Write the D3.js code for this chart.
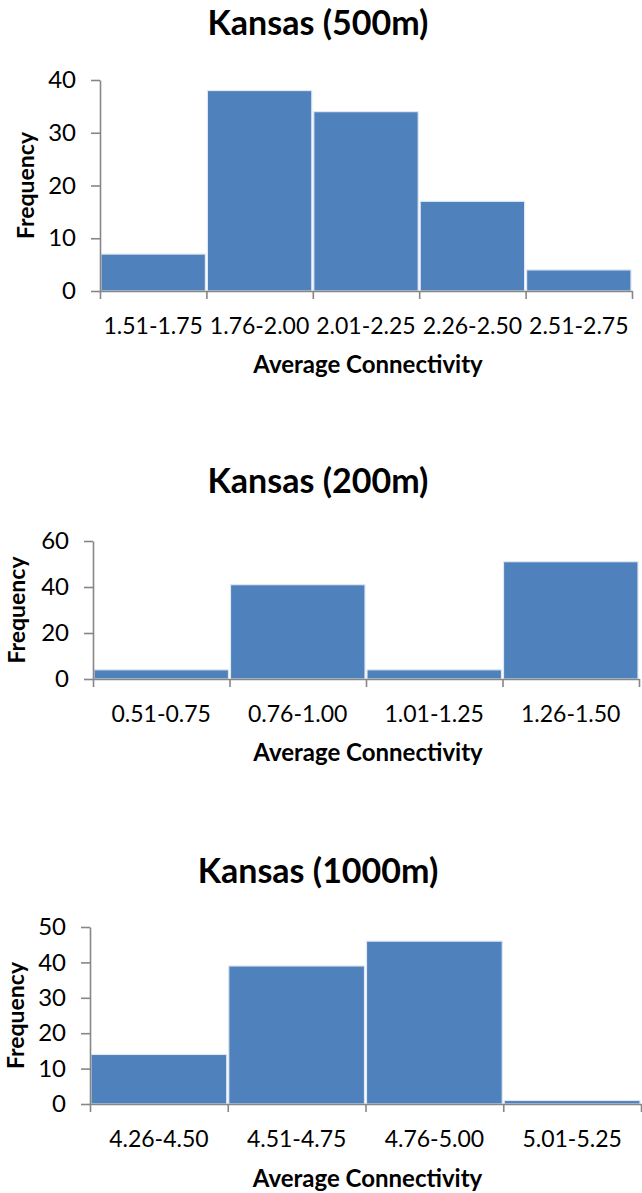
<!DOCTYPE html>
<html>
<head>
<meta charset="utf-8">
<script src="https://cdn.jsdelivr.net/npm/d3@7"></script>
<style>
  html, body { margin: 0; padding: 0; background: #fff; }
  svg { display: block; }
  text { font-family: Lato, "Open Sans", sans-serif; fill: #000; }
</style>
</head>
<body>
<svg id="chart" width="642" height="1193"></svg>
<script>
// Histogram bins and frequencies for each buffer distance
const bins500 = ["1.51-1.75", "1.76-2.00", "2.01-2.25", "2.26-2.50", "2.51-2.75"];
const freq500 = [7, 38, 34, 17, 4];
const ticks500 = [0, 10, 20, 30, 40];

const bins200 = ["0.51-0.75", "0.76-1.00", "1.01-1.25", "1.26-1.50"];
const freq200 = [4, 41, 4, 51];
const ticks200 = [0, 20, 40, 60];

const bins1000 = ["4.26-4.50", "4.51-4.75", "4.76-5.00", "5.01-5.25"];
const freq1000 = [14, 39, 46, 1];
const ticks1000 = [0, 10, 20, 30, 40, 50];

const titles = ["Kansas (500m)", "Kansas (200m)", "Kansas (1000m)"];
const xTitle = "Average Connectivity";
const yTitle = "Frequency";

// Panel geometry (pixels)
const panels = [
  { bins: bins500,  freq: freq500,  ticks: ticks500,  title: titles[0],
    left: 100, right: 632, bottom: 291, top: 80,  titleY: 35,  yLabX: 34, xTitleY: 373 },
  { bins: bins200,  freq: freq200,  ticks: ticks200,  title: titles[1],
    left: 93,  right: 639, bottom: 679, top: 541, titleY: 493, yLabX: 25, xTitleY: 761 },
  { bins: bins1000, freq: freq1000, ticks: ticks1000, title: titles[2],
    left: 90,  right: 641, bottom: 1104, top: 927, titleY: 883, yLabX: 24, xTitleY: 1187 }
];

const svg = d3.select("#chart");
const axisColor = "#868686";
const barColor = "#4f81bd";

panels.forEach(p => {
  const g = svg.append("g");
  const n = p.bins.length;

  const x = d3.scaleBand().domain(p.bins).range([p.left, p.right]).padding(0);
  const xEdge = d3.scaleLinear().domain([0, n]).range([p.left, p.right]);
  const y = d3.scaleLinear().domain([0, d3.max(p.ticks)]).range([p.bottom, p.top]);

  // bars
  g.selectAll("rect.bar")
    .data(p.bins.map((b, i) => ({ bin: b, v: p.freq[i] })))
    .join("rect")
    .attr("class", "bar")
    .attr("x", d => x(d.bin) + 1)
    .attr("width", x.bandwidth() - 2)
    .attr("y", d => y(d.v))
    .attr("height", d => y(0) - y(d.v))
    .attr("fill", barColor)
    .attr("stroke", "#dfe8f3")
    .attr("stroke-width", 1.2);

  // y axis
  const yAxis = g.append("g")
    .attr("transform", `translate(${p.left},0)`)
    .call(d3.axisLeft(y).tickValues(p.ticks).tickSize(9).tickPadding(15).tickSizeOuter(0));
  yAxis.select(".domain").attr("stroke", axisColor).attr("stroke-width", 1.6);
  yAxis.selectAll(".tick line").attr("stroke", axisColor).attr("stroke-width", 1.6);
  yAxis.selectAll(".tick text")
    .style("font-family", "Lato, sans-serif")
    .style("font-size", "24px")
    .attr("fill", "#000");

  // x axis: tick marks at bin edges
  const xAxis = g.append("g")
    .attr("transform", `translate(0,${p.bottom})`)
    .call(d3.axisBottom(xEdge).tickValues(d3.range(n + 1)).tickFormat("").tickSize(8).tickSizeOuter(0));
  xAxis.select(".domain").attr("stroke", axisColor).attr("stroke-width", 1.6);
  xAxis.selectAll(".tick line").attr("stroke", axisColor).attr("stroke-width", 1.6);

  // bin labels
  g.selectAll("text.bin")
    .data(p.bins)
    .join("text")
    .attr("class", "bin")
    .attr("x", d => x(d) + x.bandwidth() / 2)
    .attr("y", p.bottom + 43)
    .attr("text-anchor", "middle")
    .style("font-size", "23px")
    .text(d => d);

  // chart title
  g.append("text")
    .attr("x", 318)
    .attr("y", p.titleY)
    .attr("text-anchor", "middle")
    .style("font-size", "34px")
    .style("font-weight", "bold")
    .text(p.title);

  // x axis title
  g.append("text")
    .attr("x", (p.left + p.right) / 2 + 2)
    .attr("y", p.xTitleY)
    .attr("text-anchor", "middle")
    .style("font-size", "24px")
    .style("font-weight", "bold")
    .text(xTitle);

  // y axis title
  g.append("text")
    .attr("transform", `translate(${p.yLabX},${(p.top + p.bottom) / 2})rotate(-90)`)
    .attr("text-anchor", "middle")
    .style("font-size", "23px")
    .style("font-weight", "bold")
    .text(yTitle);
});
</script>
</body>
</html>
